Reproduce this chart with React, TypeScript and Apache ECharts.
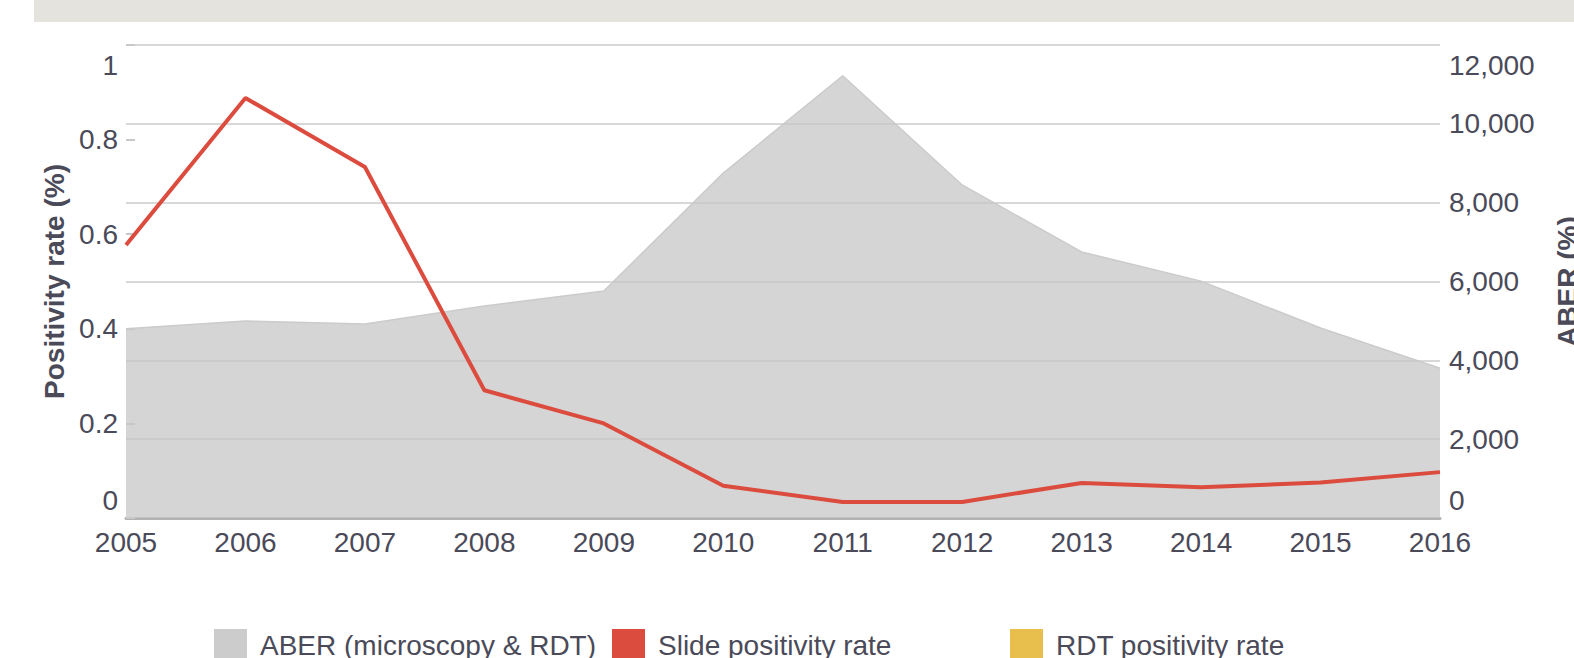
import React, { useEffect, useRef } from "react";
import * as echarts from "echarts";

const years = ["2005", "2006", "2007", "2008", "2009", "2010", "2011", "2012", "2013", "2014", "2015", "2016"];
const aberValues = [4800, 5000, 4920, 5380, 5760, 8750, 11220, 8450, 6750, 6010, 4820, 3800];
const slidePositivity = [0.577, 0.888, 0.742, 0.27, 0.2, 0.068, 0.034, 0.034, 0.074, 0.065, 0.075, 0.097];
const rdtPositivity: (number | null)[] = [null, null, null, null, null, null, null, null, null, null, null, null];

const seriesNames = ["ABER (microscopy & RDT)", "Slide positivity rate", "RDT positivity rate"];
const seriesColors = ["#cccccc", "#dc4c3e", "#e8bf4c"];

const FONT = "'Liberation Sans', Arial, Helvetica, sans-serif";
const TEXT = "#4a4a59";

function withCommas(v: number): string {
  return String(v).replace(/\B(?=(\d{3})+(?!\d))/g, ",");
}

const richLabels = {
  top: { padding: [40, 0, 0, 0], fontSize: 28, color: TEXT, fontFamily: FONT },
  bot: { padding: [0, 0, 36, 0], fontSize: 28, color: TEXT, fontFamily: FONT },
  n: { fontSize: 28, color: TEXT, fontFamily: FONT },
};

export default function App() {
  const ref = useRef<HTMLDivElement>(null);
  useEffect(() => {
    document.body.style.margin = "0";
    if (!ref.current) return;
    const chart = echarts.init(ref.current, null, { renderer: "svg" });
    const legendBase = {
      top: 624,
      icon: "rect",
      itemWidth: 33,
      itemHeight: 32,
      selectedMode: false,
      textStyle: { fontSize: 28, color: TEXT, fontFamily: FONT, padding: [0, 0, 0, 8] },
    };
    chart.setOption({
      animation: false,
      textStyle: { fontFamily: FONT },
      graphic: [
        {
          type: "rect",
          left: 34,
          top: 0,
          shape: { width: 1540, height: 22 },
          style: { fill: "#e4e3dd" },
          silent: true,
        },
      ],
      legend: seriesNames.map((name, i) => ({
        ...legendBase,
        left: 209 + i * 398,
        data: [{ name, itemStyle: { color: seriesColors[i] } }],
      })),
      grid: { left: 126, right: 134, top: 45, bottom: 140, containLabel: false, outerBoundsMode: "none" },
      xAxis: [
        {
          type: "category",
          data: years,
          boundaryGap: false,
          axisLine: { show: true, lineStyle: { color: "#c4c4c4", width: 2 } },
          axisTick: { show: false },
          axisLabel: { fontSize: 28, color: TEXT, fontFamily: FONT, margin: 10 },
          splitLine: { show: false },
        },
        {
          type: "category",
          data: years,
          boundaryGap: false,
          position: "top",
          axisLine: { show: true, lineStyle: { color: "#b2b2b2", width: 3 } },
          axisTick: { show: false },
          axisLabel: { show: false },
          splitLine: { show: false },
        },
      ],
      yAxis: [
        {
          type: "value",
          min: 0,
          max: 1,
          interval: 0.2,
          position: "left",
          name: "Positivity rate (%)",
          nameLocation: "middle",
          nameGap: 58,
          nameTextStyle: { fontSize: 28, fontWeight: "bold", color: TEXT, fontFamily: FONT },
          axisLine: { show: false },
          axisTick: { show: true, inside: true, length: 9, lineStyle: { color: "#c8c8c8", width: 2 } },
          splitLine: { show: false },
          axisLabel: {
            margin: 8,
            formatter: (v: number) => {
              const s = String(Math.round(v * 10) / 10);
              if (v >= 0.999) return "{top|" + s + "}";
              if (v <= 0.001) return "{bot|" + s + "}";
              return "{n|" + s + "}";
            },
            rich: richLabels,
          },
        },
        {
          type: "value",
          min: 0,
          max: 12000,
          interval: 2000,
          position: "right",
          name: "ABER (%)",
          nameLocation: "middle",
          nameGap: 113,
          nameTextStyle: { fontSize: 28, fontWeight: "bold", color: TEXT, fontFamily: FONT },
          axisLine: { show: false },
          axisTick: { show: false },
          splitLine: { show: true, lineStyle: { color: "#d8d8d8", width: 2 } },
          axisLabel: {
            margin: 9,
            formatter: (v: number) => {
              const s = withCommas(v);
              if (v >= 12000) return "{top|" + s + "}";
              if (v <= 0) return "{bot|" + s + "}";
              return "{n|" + s + "}";
            },
            rich: richLabels,
          },
        },
      ],
      series: [
        {
          name: seriesNames[0],
          type: "line",
          yAxisIndex: 1,
          data: aberValues,
          symbol: "none",
          itemStyle: { color: seriesColors[0] },
          lineStyle: { color: "#cbcbcb", width: 1.5 },
          areaStyle: { color: "#c6c6c6", opacity: 0.74 },
          z: 1,
        },
        {
          name: seriesNames[1],
          type: "line",
          yAxisIndex: 0,
          data: slidePositivity,
          symbol: "none",
          itemStyle: { color: seriesColors[1] },
          lineStyle: { color: seriesColors[1], width: 4 },
          z: 3,
        },
        {
          name: seriesNames[2],
          type: "line",
          yAxisIndex: 0,
          data: rdtPositivity,
          symbol: "none",
          itemStyle: { color: seriesColors[2] },
          lineStyle: { color: seriesColors[2], width: 4 },
          z: 2,
        },
      ],
    });
    return () => chart.dispose();
  }, []);
  return <div ref={ref} style={{ width: 1574, height: 658 }} />;
}
